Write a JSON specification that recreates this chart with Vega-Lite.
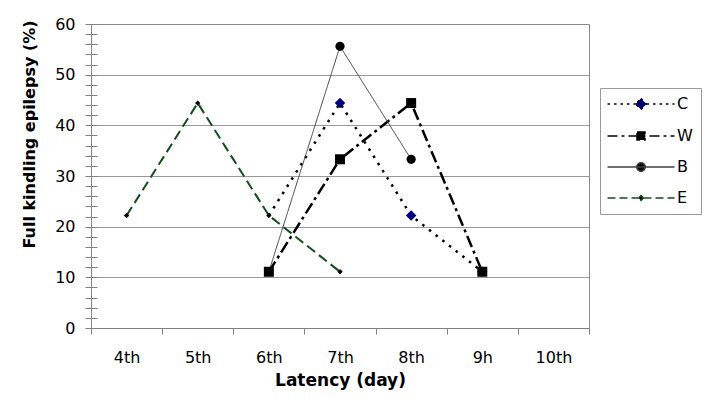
{
  "$schema": "https://vega.github.io/schema/vega-lite/v6.json",
  "width": 498,
  "height": 304,
  "autosize": "none",
  "padding": {"left": 91, "top": 24, "right": 128, "bottom": 80},
  "background": "white",
  "config": {
    "font": "DejaVu Sans",
    "view": {"stroke": "#888888", "strokeWidth": 1}
  },
  "data": {
    "values": [
      {"series": "C", "day": "6th", "value": 22.2},
      {"series": "C", "day": "7th", "value": 44.4},
      {"series": "C", "day": "8th", "value": 22.2},
      {"series": "C", "day": "9h", "value": 11.1},
      {"series": "W", "day": "6th", "value": 11.1},
      {"series": "W", "day": "7th", "value": 33.3},
      {"series": "W", "day": "8th", "value": 44.4},
      {"series": "W", "day": "9h", "value": 11.1},
      {"series": "B", "day": "6th", "value": 11.1},
      {"series": "B", "day": "7th", "value": 55.6},
      {"series": "B", "day": "8th", "value": 33.3},
      {"series": "E", "day": "4th", "value": 22.2},
      {"series": "E", "day": "5th", "value": 44.4},
      {"series": "E", "day": "6th", "value": 22.2},
      {"series": "E", "day": "7th", "value": 11.1}
    ]
  },
  "layer": [
    {
      "encoding": {
        "x": {
          "field": "day",
          "type": "ordinal",
          "scale": {"type": "band", "domain": ["4th", "5th", "6th", "7th", "8th", "9h", "10th"], "paddingInner": 0, "paddingOuter": 0},
          "axis": {
            "title": "Latency (day)",
            "tickBand": "extent",
            "labelAngle": 0,
            "labelFont": "DejaVu Sans",
            "labelFontSize": 16,
            "labelColor": "black",
            "labelPadding": 15,
            "tickSize": 6,
            "tickColor": "#808080",
            "domainColor": "#808080",
            "titleFont": "DejaVu Sans",
            "titleFontSize": 17,
            "titleFontWeight": "bold",
            "titleColor": "black",
            "titlePadding": 7,
            "grid": false
          }
        },
        "y": {
          "field": "value",
          "type": "quantitative",
          "scale": {"domain": [0, 60], "nice": false},
          "axis": {
            "title": "Full kindling epilepsy (%)",
            "values": [0, 2, 4, 6, 8, 10, 12, 14, 16, 18, 20, 22, 24, 26, 28, 30, 32, 34, 36, 38, 40, 42, 44, 46, 48, 50, 52, 54, 56, 58, 60],
            "offset": -6,
            "tickSize": 12,
            "tickColor": "#808080",
            "domain": false,
            "labelOverlap": false,
            "labelExpr": "datum.value % 10 === 0 ? datum.label : ''",
            "labelFont": "DejaVu Sans",
            "labelFontSize": 16,
            "labelColor": "black",
            "labelPadding": 10,
            "titleFont": "DejaVu Sans",
            "titleFontSize": 16,
            "titleFontWeight": "bold",
            "titleColor": "black",
            "titlePadding": 17,
            "titleY": 110,
            "grid": true,
            "gridColor": "#999999",
            "gridOpacity": {"condition": {"test": "datum.value % 10 === 0 && datum.value > 0 && datum.value < 60", "value": 1}, "value": 0}
          }
        }
      },
      "layer": [
        {
          "mark": {"type": "line"},
          "encoding": {
            "stroke": {"field": "series", "type": "nominal", "scale": {"domain": ["C", "W", "B", "E"], "range": ["#000000", "#000000", "#404040", "#134d1c"]}, "legend": null},
            "strokeDash": {"field": "series", "type": "nominal", "scale": {"domain": ["C", "W", "B", "E"], "range": [[2.5, 6], [12, 4, 3, 4], [1, 0], [10, 5]]}, "legend": null},
            "strokeWidth": {"field": "series", "type": "nominal", "scale": {"type": "ordinal", "domain": ["C", "W", "B", "E"], "range": [2.5, 2.5, 1, 2]}, "legend": null}
          }
        },
        {
          "transform": [{"filter": "!(datum.series === 'C' && datum.day === '6th')"}],
          "mark": {"type": "point", "filled": true, "opacity": 1},
          "encoding": {
            "fill": {"field": "series", "type": "nominal", "scale": {"domain": ["C", "W", "B", "E"], "range": ["#000080", "#000000", "#000000", "#000000"]}, "legend": null},
            "shape": {"field": "series", "type": "nominal", "scale": {"domain": ["C", "W", "B", "E"], "range": ["diamond", "square", "circle", "diamond"]}, "legend": null},
            "size": {"field": "series", "type": "nominal", "scale": {"type": "ordinal", "domain": ["C", "W", "B", "E"], "range": [110, 100, 85, 28]}, "legend": null}
          }
        }
      ]
    },
    {
      "transform": [{"filter": "false"}],
      "mark": {"type": "point", "filled": true, "size": 100, "opacity": 1},
      "encoding": {
        "fill": {"field": "series", "type": "nominal", "scale": {"domain": ["C", "W", "B", "E"], "range": ["#000080", "#000000", "#000000", "#000000"]},
          "legend": {"title": null, "orient": "none", "legendX": 509, "legendY": 64, "labelFont": "DejaVu Sans", "labelFontSize": 16, "labelColor": "black", "symbolSize": 100, "symbolStrokeWidth": 1.5, "symbolOffset": 25, "labelOffset": 28, "rowPadding": 15, "padding": 8, "strokeColor": "#999999", "fillColor": "white"}},
        "stroke": {"field": "series", "type": "nominal", "scale": {"domain": ["C", "W", "B", "E"], "range": ["#000000", "#000000", "#404040", "#134d1c"]},
          "legend": {"title": null, "orient": "none", "legendX": 509, "legendY": 64, "labelFont": "DejaVu Sans", "labelFontSize": 16, "labelColor": "black", "symbolSize": 100, "symbolStrokeWidth": 1.5, "symbolOffset": 25, "labelOffset": 28, "rowPadding": 15, "padding": 8, "strokeColor": "#999999", "fillColor": "white"}},
        "strokeDash": {"field": "series", "type": "nominal", "scale": {"domain": ["C", "W", "B", "E"], "range": [[2.5, 4], [10, 4, 3, 4], [1, 0], [8, 4]]},
          "legend": {"title": null, "orient": "none", "legendX": 509, "legendY": 64, "labelFont": "DejaVu Sans", "labelFontSize": 16, "labelColor": "black", "symbolSize": 100, "symbolStrokeWidth": 1.5, "symbolOffset": 25, "labelOffset": 28, "rowPadding": 15, "padding": 8, "strokeColor": "#999999", "fillColor": "white"}},
        "shape": {"field": "series", "type": "nominal", "scale": {"domain": ["C", "W", "B", "E"], "range": [
            "M-6.7,0H6.7M0,-1.1L1.1,0L0,1.1L-1.1,0Z",
            "M-6.7,0H6.7M-0.8,-0.8H0.8V0.8H-0.8Z",
            "M-6.7,0H6.7M-0.85,0A0.85,0.85,0,1,0,0.85,0A0.85,0.85,0,1,0,-0.85,0Z",
            "M-6.7,0H6.7M0,-0.5L0.5,0L0,0.5L-0.5,0Z"]},
          "legend": {"title": null, "orient": "none", "legendX": 509, "legendY": 64, "labelFont": "DejaVu Sans", "labelFontSize": 16, "labelColor": "black", "symbolSize": 100, "symbolStrokeWidth": 1.5, "symbolOffset": 25, "labelOffset": 28, "rowPadding": 15, "padding": 8, "strokeColor": "#999999", "fillColor": "white"}}
      }
    }
  ],
  "resolve": {"scale": {"fill": "independent", "stroke": "independent", "shape": "independent", "strokeDash": "independent"}}
}
